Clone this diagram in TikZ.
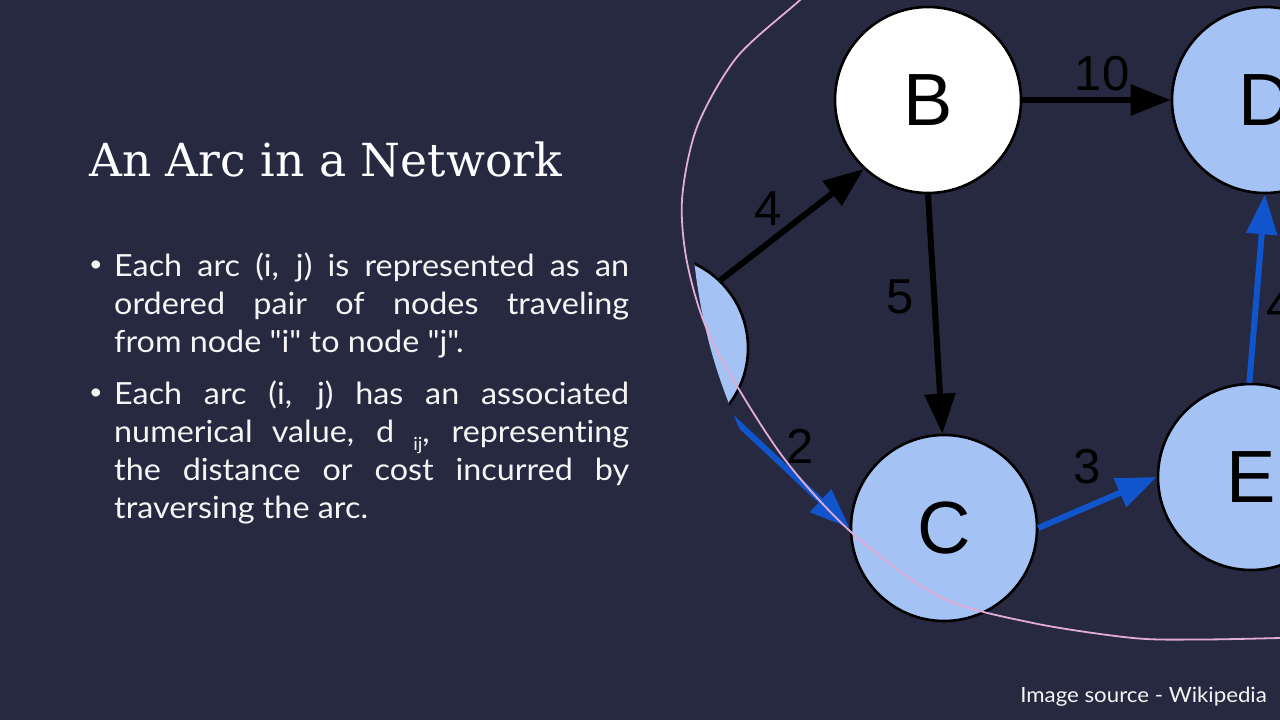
\documentclass[tikz,border=0pt]{standalone}
\usepackage{fontspec}
\usetikzlibrary{arrows.meta}
\newfontfamily\titlefont{DejaVu Serif}
\newfontfamily\bodyfont[FakeStretch=1.06,Ligatures=NoCommon]{Lato}
\newfontfamily\graphfont{Liberation Sans}
\definecolor{bg}{RGB}{38,41,64}
\definecolor{nodeblue}{HTML}{A4C2F4}
\definecolor{arcblue}{HTML}{1155CC}
\definecolor{ringpink}{RGB}{226,172,218}
\definecolor{txt}{RGB}{245,245,245}
\begin{document}
\begin{tikzpicture}[x=1pt,y=-1pt,
  vertex/.style={circle,draw=black,line width=2.6pt,minimum size=186pt,inner sep=0pt,
    font=\graphfont\fontsize{74}{74}\selectfont},
  blackarc/.style={line width=6pt,black,-{Triangle[length=40pt,width=30pt]}},
  bluearc/.style={line width=6pt,arcblue,-{Triangle[length=40pt,width=30pt]}},
  weight/.style={inner sep=0pt,font=\graphfont\fontsize{49}{49}\selectfont,text=black},
  bodyline/.style={anchor=base west,inner sep=0pt,text=txt,font=\bodyfont\fontsize{30.5}{38}\selectfont},
  bulletmark/.style={anchor=base,inner sep=0pt,text=txt,font=\bodyfont\fontsize{22}{22}\selectfont}
]
\useasboundingbox (0,0) rectangle (1280,720);
\fill[bg] (0,0) rectangle (1280,720);
\clip (0,0) rectangle (1280,720);

% title and text
\node[anchor=base west,inner sep=0pt,text=white,font=\titlefont\fontsize{45.6}{50}\selectfont] (title) at (89,176) {An Arc in a Network};

\node[bulletmark] (b1) at (96,271) {•};
\node[bodyline] (p1a) at (114,276) {\hbox to 515pt{Each arc (i, j) is represented as an}};
\node[bodyline] (p1b) at (114,314) {\hbox to 515pt{ordered pair of nodes traveling}};
\node[bodyline] (p1c) at (114,352) {from node "i" to node "j".};

\node[bulletmark] (b2) at (96,399) {•};
\node[bodyline] (p2a) at (114,404) {\hbox to 515pt{Each arc (i, j) has an associated}};
\node[bodyline] (p2b) at (114,442) {\hbox to 515pt{numerical value, d \raisebox{-0.28em}{\fontsize{18}{18}\selectfont ij}, representing}};
\node[bodyline] (p2c) at (114,480) {\hbox to 515pt{the distance or cost incurred by}};
\node[bodyline] (p2d) at (114,518) {traversing the arc.};

\node[anchor=base east,inner sep=0pt,text=txt,font=\bodyfont\fontsize{21}{21}\selectfont] (src) at (1267,702) {Image source - Wikipedia};

% graph
\begin{scope}
\clip (693,-10) -- (693,250) .. controls (699,312) and (712,368) .. (741,432) -- (760,730) -- (1290,730) -- (1290,-10) -- cycle;
\node[vertex,fill=nodeblue] (A) at (655,348) {};
\node[vertex,fill=white] (B) at (928,100) {B};
\node[vertex,fill=nodeblue] (C) at (944,528) {C};
\node[vertex,fill=nodeblue] (D) at (1265,100) {D};
\node[vertex,fill=nodeblue] (E) at (1251,477) {E};

\draw[blackarc] (A.46) -- (B.227);
\draw[blackarc] (B.0) -- (D.180);
\draw[blackarc] (B.270) -- (C.91);
\draw[bluearc] (A.-42) -- (C.180);
\draw[bluearc] (C.0) -- (E.180);
\draw[bluearc] (E.91) -- (D.270);

\node[weight] (w10) at (1102,74) {10};
\node[weight] (w4) at (768,209) {4};
\node[weight] (w5) at (900,297) {5};
\node[weight] (w2) at (800,446) {2};
\node[weight] (w3) at (1087,467) {3};
\node[weight] (w4b) at (1280,306) {4};
\end{scope}

% highlight ring
\draw[ringpink,line width=1.8pt] plot[smooth,tension=0.5] coordinates {
  (830,-30) (800,0) (737,57) (697,127) (682,200) (688,267) (713,343)
  (780,453) (851,532) (940,597) (1033,623) (1133,638) (1200,639.5)
  (1280,638) (1340,636)};
\end{tikzpicture}
\end{document}
